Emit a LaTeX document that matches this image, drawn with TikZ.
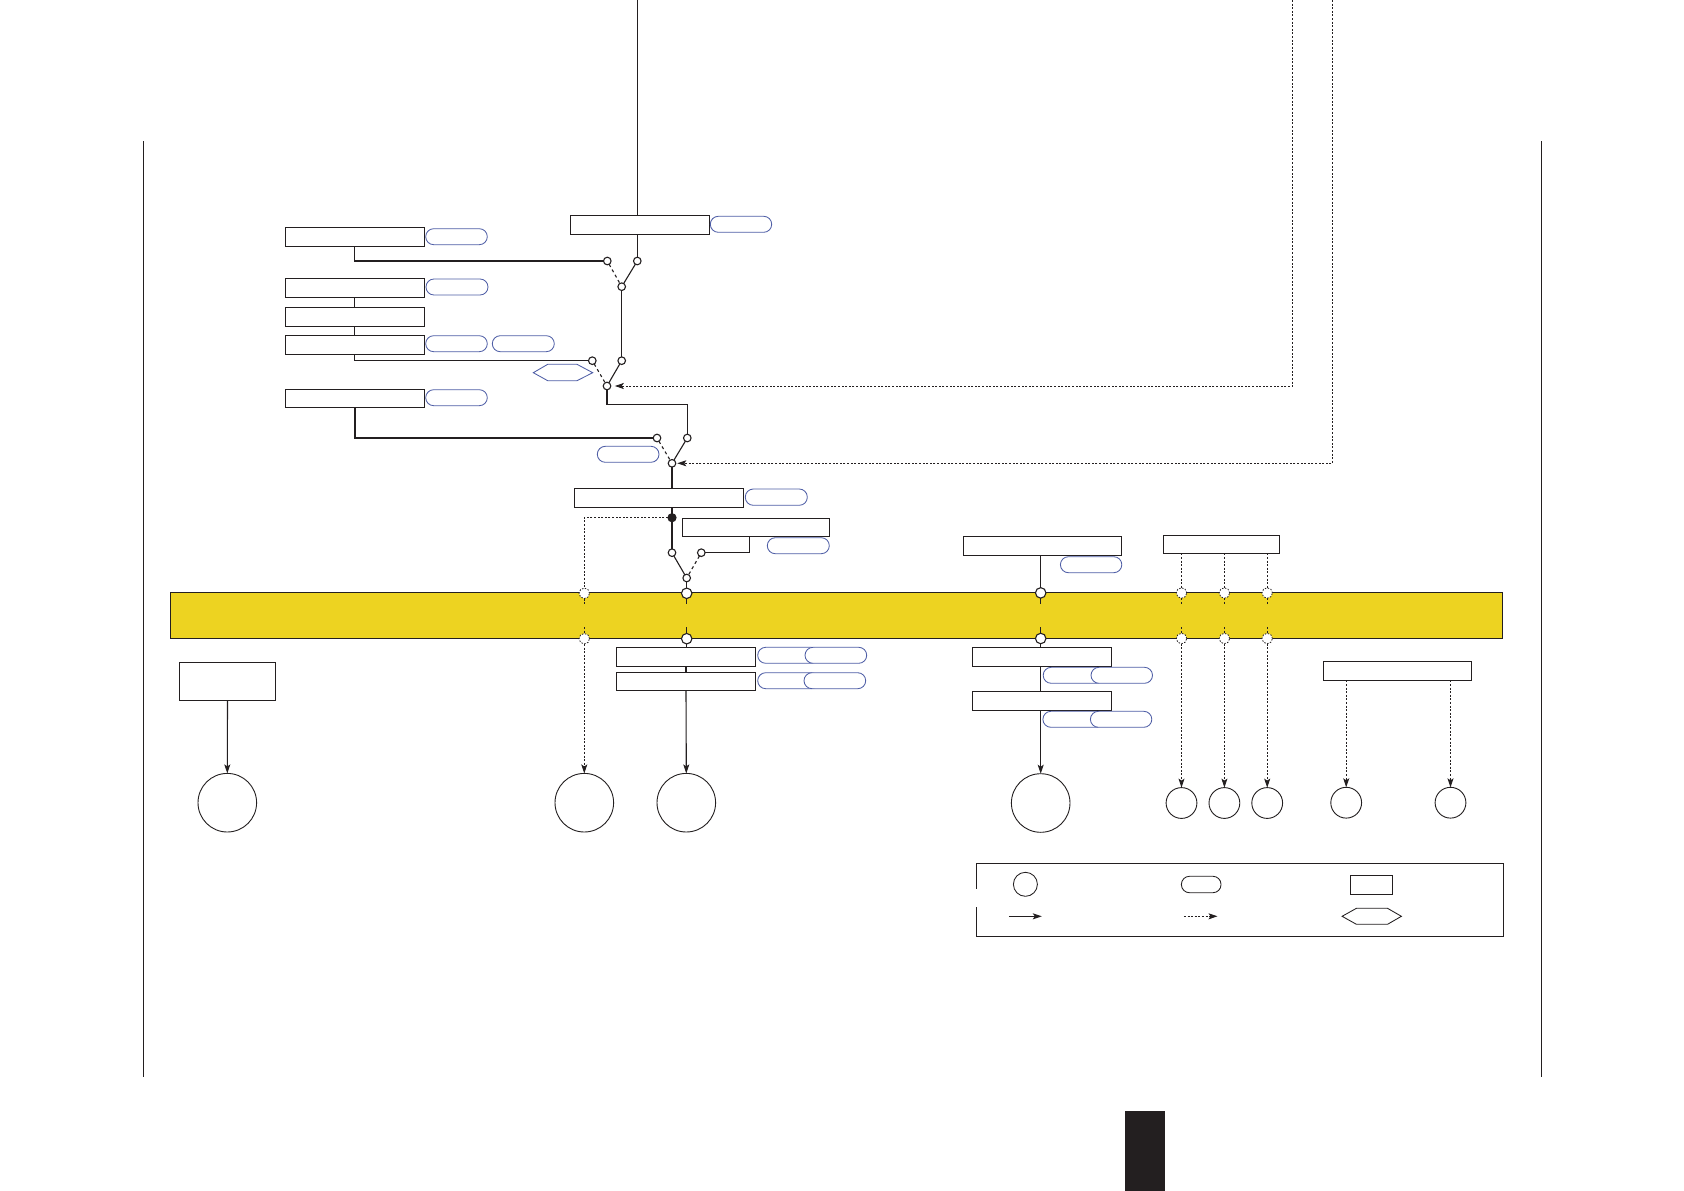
\documentclass[tikz,border=0pt]{standalone}
\usetikzlibrary{arrows.meta,shapes.geometric,calc}
\definecolor{bandyellow}{HTML}{EDD321}
\definecolor{pillblue}{HTML}{4F5EA6}
\definecolor{inkblack}{HTML}{231F20}
\tikzset{
  lw/.style={line width=1.1pt,draw=inkblack},
  boxst/.style={lw,rectangle,fill=white,inner sep=0pt,outer sep=0pt},
  pillst/.style={line width=0.85pt,draw=pillblue,rectangle,fill=white,rounded corners=8pt,inner sep=0pt,outer sep=0pt},
  legpill/.style={pillst,draw=inkblack},
  sw/.style={lw,circle,fill=white,inner sep=0pt,outer sep=0pt,minimum size=7.6pt},
  dot/.style={sw,fill=inkblack,minimum size=8pt},
  bandsw/.style={lw,circle,fill=white,inner sep=0pt,outer sep=0pt,minimum size=10.5pt},
  bandsd/.style={bandsw,dash pattern=on 1.5pt off 1.5pt,line width=.8pt},
  endc/.style={line width=0.9pt,draw=inkblack,circle,fill=white,inner sep=0pt,outer sep=0pt},
  conn/.style={lw},
  dashc/.style={lw,dash pattern=on 3pt off 3pt},
  dotc/.style={lw,line width=.9pt,dash pattern=on 2pt off 1.6pt},
  arr/.style={-{Stealth[length=9pt,width=6pt,inset=2pt]}}
}
% \bx{style}{name}{x1}{y1}{x2}{y2}
\newcommand{\bx}[6]{%
  \pgfmathsetmacro{\cxx}{(#3+#5)/2}\pgfmathsetmacro{\cyy}{(#4+#6)/2}%
  \pgfmathsetmacro{\wxx}{#5-#3}\pgfmathsetmacro{\hyy}{#6-#4}%
  \node[#1,minimum width=\wxx pt,minimum height=\hyy pt] (#2) at (\cxx,\cyy) {};}
\begin{document}
\begin{tikzpicture}[x=1pt,y=-1pt]
\useasboundingbox (0,0) rectangle (1684,1191);
\fill[white] (0,0) rectangle (1684,1191);
% side rules and page tab
\coordinate (lt) at (143.4,141); \coordinate (lb) at (143.4,1076.7);
\coordinate (rt) at (1541.6,141); \coordinate (rb) at (1541.6,1076.7);
\draw[conn] (lt) -- (lb);
\draw[conn] (rt) -- (rb);
\bx{fill=inkblack,inner sep=0pt}{tab}{1125}{1111}{1165}{1191}
% band
\bx{lw,rectangle,fill=bandyellow,inner sep=0pt,outer sep=0pt}{band}{170.3}{592.7}{1502.5}{638.3}
% off-page coordinates
\coordinate (topa) at (637.3,0);
\coordinate (topb) at (1292.7,0);
\coordinate (topc) at (1332.4,0);
% boxes
\bx{boxst}{A}{570.3}{215.3}{709.7}{234.3}
\bx{boxst}{B}{285.3}{227.3}{424.7}{246.3}
\bx{boxst}{C}{285.3}{278.7}{424.7}{297.3}
\bx{boxst}{D}{285.3}{307.3}{424.7}{326.3}
\bx{boxst}{E}{285.3}{335.3}{424.7}{354.3}
\bx{boxst}{F}{285.3}{389.3}{424.7}{407.3}
\bx{boxst}{H}{574.3}{488.3}{743.7}{507.3}
\bx{boxst}{I}{682.3}{518.3}{829.7}{536.7}
\bx{boxst}{J}{963.2}{536.3}{1121.8}{555.3}
\bx{boxst}{K}{1163.2}{535.3}{1279.3}{553.3}
\bx{boxst}{L}{1323.2}{661.3}{1471.8}{680.3}
\bx{boxst}{M}{972.5}{647.3}{1111.8}{666.3}
\bx{boxst}{N}{972.5}{691.7}{1111.8}{710.7}
\bx{boxst}{O}{616.3}{647.3}{755.7}{666.3}
\bx{boxst}{P}{616.3}{672.3}{755.7}{690.3}
\bx{boxst}{Q}{179.3}{662.3}{275.7}{700.3}
% pills
\bx{pillst}{pA}{710.3}{216.3}{771.7}{232.3}
\bx{pillst}{pB}{425.7}{228.7}{487.3}{244.7}
\bx{pillst}{pC}{426}{279}{488}{295}
\bx{pillst}{pE1}{425.7}{335.7}{487.3}{351.7}
\bx{pillst}{pE2}{492.3}{335.7}{554.3}{351.7}
\bx{pillst}{pF}{425.7}{389.7}{487.3}{405.7}
\bx{pillst}{pG}{597.3}{446.3}{659}{462.3}
\bx{pillst}{pH}{745.3}{489}{807.3}{505.3}
\bx{pillst}{pI}{767.3}{537.7}{829.3}{553.7}
\bx{pillst}{pJ}{1060.4}{556.7}{1121.8}{572.7}
\bx{pillst}{pO1}{757.7}{647.3}{819}{663.3}
\bx{pillst}{pO2}{805}{647.3}{866.7}{663.3}
\bx{pillst}{pP1}{757.7}{672.7}{819}{688.7}
\bx{pillst}{pP2}{804}{672.7}{865.7}{688.7}
\bx{pillst}{pM1}{1043.2}{667.3}{1104.5}{683.3}
\bx{pillst}{pM2}{1091}{667.3}{1152.5}{683.3}
\bx{pillst}{pN1}{1042.9}{711.3}{1104.5}{727.3}
\bx{pillst}{pN2}{1090.4}{711.3}{1151.8}{727.3}
% blue hexagon
\coordinate (hx1) at (533.3,372.7); \coordinate (hx2) at (547.7,364.3); \coordinate (hx3) at (577,364.3);
\coordinate (hx4) at (592.7,372.7); \coordinate (hx5) at (577,380.7); \coordinate (hx6) at (547.7,380.7);
\draw[line width=.85pt,draw=pillblue] (hx1)--(hx2)--(hx3)--(hx4)--(hx5)--(hx6)--cycle;
% switch circles
\node[sw] (s1l) at (607.3,261) {};
\node[sw] (s1r) at (637.3,261) {};
\node[sw] (s1j) at (621.7,286.7) {};
\node[sw] (s2l) at (592.3,360.7) {};
\node[sw] (s2r) at (621.7,360.7) {};
\node[sw] (s2j) at (607,386) {};
\node[sw] (s3l) at (657,438) {};
\node[sw] (s3r) at (687.3,438) {};
\node[sw] (s3j) at (672,463.3) {};
\node[sw] (s4l) at (672,552.7) {};
\node[sw] (s4r) at (701.3,552.7) {};
\node[sw] (s4j) at (686.7,578) {};
\node[dot] (fd) at (672,517.7) {};
\coordinate (bend1) at (687.3,404.3);
\coordinate (tapB) at (354.3,246.3);
\coordinate (tapE) at (354.3,354.3);
\coordinate (tapI) at (749.7,536.7);
% band circles
\node[bandsw] (ba1) at (686.7,593.3) {};
\node[bandsw] (bb1) at (686.7,638.7) {};
\node[bandsw] (ba2) at (1040.7,592.9) {};
\node[bandsw] (bb2) at (1040.7,638.5) {};
\node[bandsd] (ba0) at (584.3,593.3) {};
\node[bandsd] (bb0) at (584.3,638.7) {};
\node[bandsd] (ba3) at (1181.5,593) {};
\node[bandsd] (bb3) at (1181.5,638.5) {};
\node[bandsd] (ba4) at (1224.4,593) {};
\node[bandsd] (bb4) at (1224.4,638.5) {};
\node[bandsd] (ba5) at (1267.2,593) {};
\node[bandsd] (bb5) at (1267.2,638.5) {};
% end circles
\node[endc,minimum size=58.6pt] (e1) at (227.3,802.7) {};
\node[endc,minimum size=58.6pt] (e2) at (584.3,802.7) {};
\node[endc,minimum size=58.6pt] (e3) at (686.3,802.7) {};
\node[endc,minimum size=58.6pt] (e4) at (1040.7,803) {};
\node[endc,minimum size=30.8pt] (e5) at (1181.5,803) {};
\node[endc,minimum size=30.8pt] (e6) at (1224.4,803) {};
\node[endc,minimum size=30.8pt] (e7) at (1267.2,803) {};
\node[endc,minimum size=30.8pt] (e8) at (1346.2,802.7) {};
\node[endc,minimum size=30.8pt] (e9) at (1450.5,802.7) {};
% tick ends inside the band
\coordinate (tu) at (0,604.3); \coordinate (td) at (0,627);
% solid connectors
\draw[conn] (topa) -- (topa |- A.north);
\draw[conn] (topa |- A.south) -- (s1r);
\draw[conn] (tapB) |- (s1l);
\draw[conn] (s1r) -- (s1j);
\draw[dashc] (s1l) -- (s1j);
\draw[conn] (s1j) -- (s2r);
\draw[conn] (tapB |- C.south) -- (tapB |- D.north);
\draw[conn] (tapB |- D.south) -- (tapB |- E.north);
\draw[conn] (tapE) |- (s2l);
\draw[conn] (s2r) -- (s2j);
\draw[dashc] (s2l) -- (s2j);
\draw[conn] (s2j.south) |- (bend1) -- (s3r);
\draw[conn] (F.south) |- (s3l);
\draw[conn] (s3r) -- (s3j);
\draw[dashc] (s3l) -- (s3j);
\draw[conn] (s3j.south) -- (s3j.south |- H.north);
\draw[conn] (s3j.south |- H.south) -- (fd);
\draw[conn] (fd) -- (s4l);
\draw[conn] (tapI) |- (s4r);
\draw[conn] (s4l) -- (s4j);
\draw[dashc] (s4r) -- (s4j);
\draw[conn] (s4j) -- (ba1);
\draw[conn] (ba1.south) -- (ba1.south |- tu);
\draw[conn] (bb1.north |- td) -- (bb1.north);
\draw[conn] (bb1.south) -- (bb1.south |- O.north);
\draw[conn] (O.south) -- (P.north);
\draw[conn,arr] (P.south) -- (e3.north);
\draw[conn] (ba2 |- J.south) -- (ba2);
\draw[conn] (ba2.south) -- (ba2.south |- tu);
\draw[conn] (bb2.north |- td) -- (bb2.north);
\draw[conn] (bb2.south) -- (bb2.south |- M.north);
\draw[conn] (bb2 |- M.south) -- (bb2 |- N.north);
\draw[conn,arr] (bb2 |- N.south) -- (e4.north);
\draw[conn,arr] (Q.south) -- (e1.north);
% dotted connectors
\draw[dotc,arr,shorten >=4pt] (topb) |- (s2j);
\draw[dotc,arr,shorten >=1.5pt] (topc) |- (s3j);
\draw[dotc] (fd) -| (ba0);
\draw[dotc] (ba0.south) -- (ba0.south |- tu);
\draw[dotc] (bb0.north |- td) -- (bb0.north);
\draw[dotc,arr] (bb0.south) -- (e2.north);
\draw[dotc] (ba3 |- K.south) -- (ba3);
\draw[dotc] (ba4 |- K.south) -- (ba4);
\draw[dotc] (ba5 |- K.south) -- (ba5);
\draw[dotc] (ba3.south) -- (ba3.south |- tu);
\draw[dotc] (ba4.south) -- (ba4.south |- tu);
\draw[dotc] (ba5.south) -- (ba5.south |- tu);
\draw[dotc] (bb3.north |- td) -- (bb3.north);
\draw[dotc] (bb4.north |- td) -- (bb4.north);
\draw[dotc] (bb5.north |- td) -- (bb5.north);
\draw[dotc,arr] (bb3.south) -- (e5.north);
\draw[dotc,arr] (bb4.south) -- (e6.north);
\draw[dotc,arr] (bb5.south) -- (e7.north);
\draw[dotc,arr] (e8 |- L.south) -- (e8.north);
\draw[dotc,arr] (e9 |- L.south) -- (e9.north);
% legend frame with its gap
\coordinate (f1) at (976.4,888.7); \coordinate (f2) at (976.4,863.7); \coordinate (f3) at (1503.6,863.7);
\coordinate (f4) at (1503.6,936.3); \coordinate (f5) at (976.4,936.3); \coordinate (f6) at (976.4,907.3);
\draw[conn] (f1)--(f2)--(f3)--(f4)--(f5)--(f6);
\node[endc,minimum size=24pt,line width=.85pt] (lc) at (1025.4,884.3) {};
\bx{legpill}{lp}{1181.4}{876.3}{1221}{892.7}
\bx{boxst}{lr}{1350.4}{875.3}{1392.5}{894.3}
\coordinate (la1) at (1008.9,916.3); \coordinate (la2) at (1041.8,916.3);
\draw[conn,arr] (la1) -- (la2);
\coordinate (ld1) at (1183.9,916.3); \coordinate (ld2) at (1217.5,916.3);
\draw[dotc,arr] (ld1) -- (ld2);
\coordinate (lh1) at (1342.1,916.3); \coordinate (lh2) at (1356.4,908.3); \coordinate (lh3) at (1387.5,908.3);
\coordinate (lh4) at (1401.4,916.3); \coordinate (lh5) at (1387.5,924.3); \coordinate (lh6) at (1356.4,924.3);
\draw[line width=.85pt,draw=inkblack] (lh1)--(lh2)--(lh3)--(lh4)--(lh5)--(lh6)--cycle;
\end{tikzpicture}
\end{document}
